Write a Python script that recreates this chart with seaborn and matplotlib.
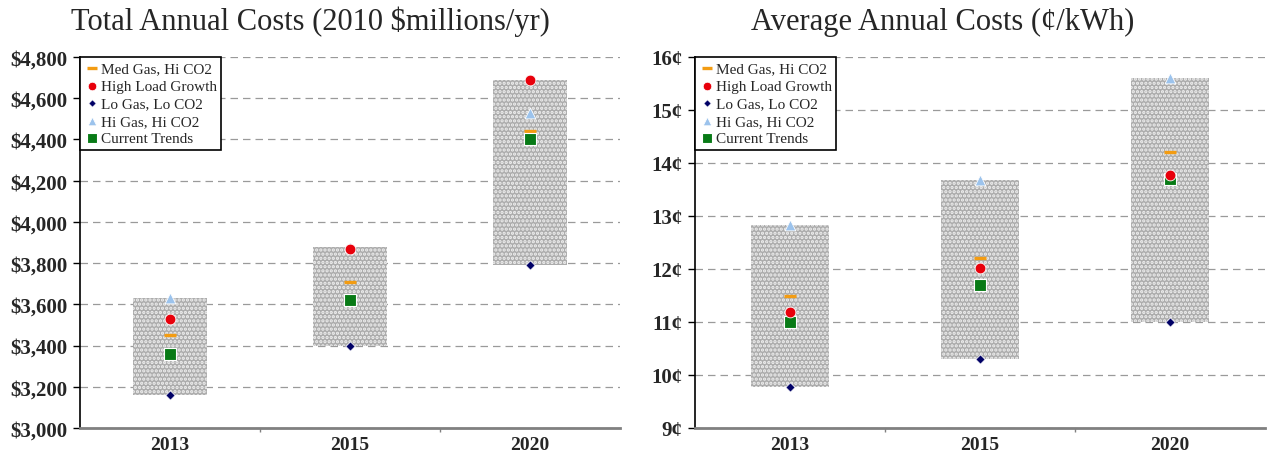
import matplotlib
matplotlib.use("Agg")
import matplotlib.pyplot as plt
import seaborn as sns
import numpy as np
import pandas as pd
from matplotlib.ticker import FuncFormatter, FixedLocator

sns.set_theme(style="white")
plt.rcParams['font.family'] = ['Liberation Serif', 'DejaVu Serif']
plt.rcParams['hatch.linewidth'] = 1.6

years = ["2013", "2015", "2020"]

# Total annual costs, 2010 $millions/yr
total_med_gas = [3450, 3710, 4440]
total_high_load = [3530, 3870, 4690]
total_lo_gas = [3160, 3400, 3790]
total_hi_gas = [3630, 3880, 4530]
total_current = [3360, 3620, 4400]

# Average annual costs, cents/kWh
avg_med_gas = [11.50, 12.20, 14.20]
avg_high_load = [11.18, 12.02, 13.78]
avg_lo_gas = [9.77, 10.30, 11.00]
avg_hi_gas = [12.83, 13.68, 15.60]
avg_current = [11.00, 11.70, 13.70]

total_ticks = [3000, 3200, 3400, 3600, 3800, 4000, 4200, 4400, 4600, 4800]
avg_ticks = [9, 10, 11, 12, 13, 14, 15, 16]

series_styles = {
    "Med Gas, Hi CO2": dict(marker="_", color="#F39C12", s=70, linewidth=2.4),
    "High Load Growth": dict(marker="o", color="#E8000B", s=60, edgecolor="white", linewidth=0.6),
    "Lo Gas, Lo CO2": dict(marker="D", color="#000066", s=22, edgecolor="white", linewidth=0.5),
    "Hi Gas, Hi CO2": dict(marker="^", color="#9CC3EC", s=60, edgecolor="white", linewidth=0.6),
    "Current Trends": dict(marker="s", color="#087A16", s=85, edgecolor="white", linewidth=0.8),
}
legend_order = ["Med Gas, Hi CO2", "High Load Growth", "Lo Gas, Lo CO2",
                "Hi Gas, Hi CO2", "Current Trends"]
draw_order = ["Hi Gas, Hi CO2", "Med Gas, Hi CO2", "Current Trends",
              "High Load Growth", "Lo Gas, Lo CO2"]

fig = plt.figure(figsize=(12.68, 4.60), dpi=100)
W, H = 1268, 460
ax1 = fig.add_axes([80 / W, 31 / H, 540 / W, 371 / H])
ax2 = fig.add_axes([695 / W, 31 / H, 570 / W, 371 / H])


def draw_panel(ax, data, ticks, fmt, title, title_x):
    x = np.arange(len(years))
    lows = np.min([data[k] for k in data], axis=0)
    highs = np.max([data[k] for k in data], axis=0)
    ax.bar(x, highs - lows, bottom=lows, width=0.41, color="#acacac",
           edgecolor="#f0f0f0", hatch="....", linewidth=0, zorder=2)
    for name in draw_order:
        st = dict(series_styles[name])
        df = pd.DataFrame({"x": x, "y": data[name]})
        sns.scatterplot(data=df, x="x", y="y", ax=ax, label=name, zorder=4, **st)
    h, l = ax.get_legend_handles_labels()
    lookup = dict(zip(l, h))
    leg = ax.legend([lookup[n] for n in legend_order], legend_order,
                    loc="upper left", bbox_to_anchor=(0.0, 1.0), fontsize=11,
                    frameon=True, fancybox=False, framealpha=1, borderpad=0.3,
                    labelspacing=0.25, handletextpad=0.05, handlelength=1.0,
                    borderaxespad=0.0, markerscale=0.8)
    leg.get_frame().set_edgecolor("black")
    leg.get_frame().set_linewidth(1.2)
    leg.set_zorder(10)

    ax.set_xlim(-0.5, len(years) - 0.5)
    ax.set_ylim(ticks[0], ticks[-1])
    ax.set_yticks(ticks)
    ax.yaxis.set_major_formatter(FuncFormatter(fmt))
    ax.set_xticks(x)
    ax.set_xticklabels(years)
    ax.xaxis.set_minor_locator(FixedLocator([0.5, 1.5]))
    ax.tick_params(axis="x", which="major", length=0, pad=6, labelsize=14)
    ax.tick_params(axis="x", which="minor", length=3, color="#808080", width=1, bottom=True)
    ax.tick_params(axis="y", which="major", length=5, color="black", width=1,
                   left=True, labelsize=15, pad=4)
    for lab in ax.get_xticklabels() + ax.get_yticklabels():
        lab.set_fontweight("bold")
    ax.grid(axis="y", color="#9a9a9a", linestyle=(0, (6, 4)), linewidth=0.9, zorder=0)
    ax.set_axisbelow(True)
    for s in ["top", "right"]:
        ax.spines[s].set_visible(False)
    ax.spines["left"].set_color("black")
    ax.spines["left"].set_linewidth(1.2)
    ax.spines["bottom"].set_color("#808080")
    ax.spines["bottom"].set_linewidth(2)
    ax.set_xlabel("")
    ax.set_ylabel("")
    fig.text(title_x / W, 1 - 22 / H, title, ha="center", va="center", fontsize=22)


total_data = {
    "Med Gas, Hi CO2": total_med_gas,
    "High Load Growth": total_high_load,
    "Lo Gas, Lo CO2": total_lo_gas,
    "Hi Gas, Hi CO2": total_hi_gas,
    "Current Trends": total_current,
}
avg_data = {
    "Med Gas, Hi CO2": avg_med_gas,
    "High Load Growth": avg_high_load,
    "Lo Gas, Lo CO2": avg_lo_gas,
    "Hi Gas, Hi CO2": avg_hi_gas,
    "Current Trends": avg_current,
}

draw_panel(ax1, total_data, total_ticks, lambda v, p: f"${v:,.0f}",
           "Total Annual Costs (2010 $millions/yr)", 310)
draw_panel(ax2, avg_data, avg_ticks, lambda v, p: f"{v:.0f}¢",
           "Average Annual Costs (¢/kWh)", 943)

fig.savefig("out.png", dpi=100, facecolor="white")
